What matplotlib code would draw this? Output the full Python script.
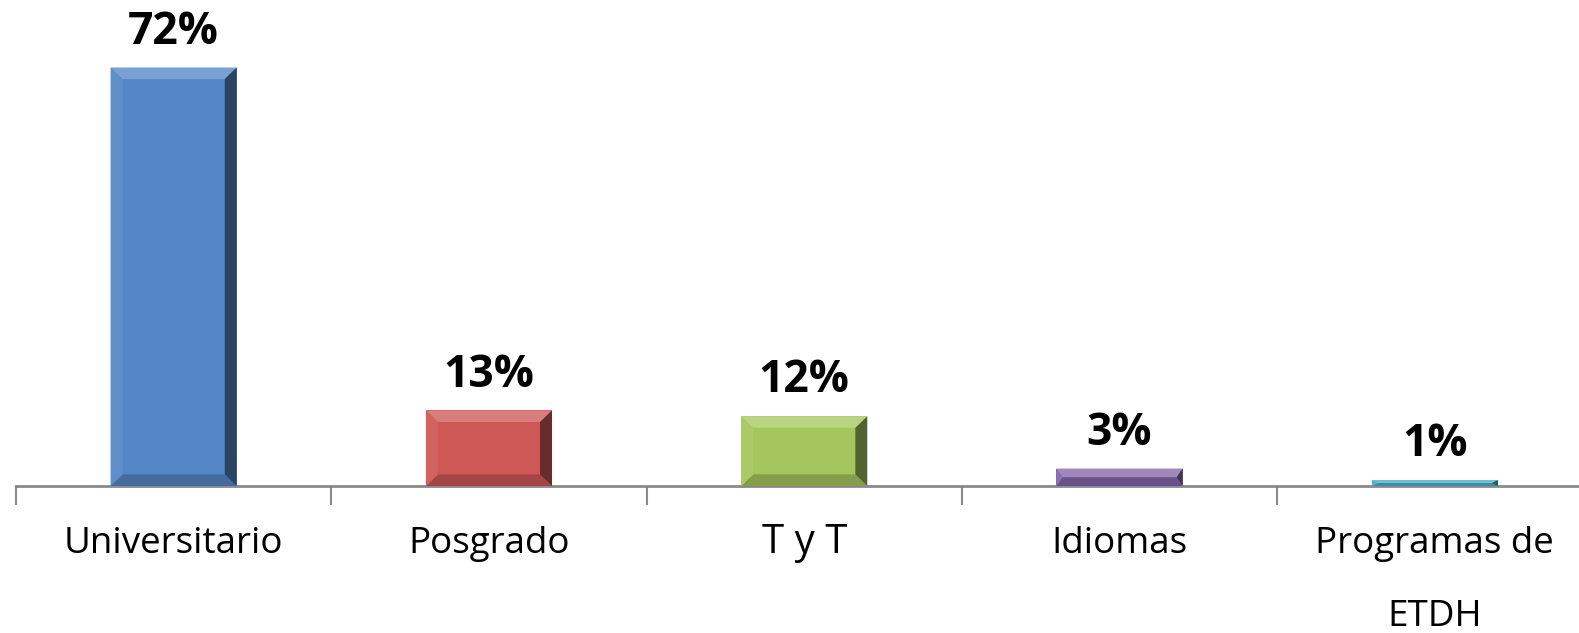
import matplotlib.pyplot as plt
from matplotlib.patches import Polygon
import numpy as np

categories = ['Universitario', 'Posgrado', 'T y T', 'Idiomas', 'Programas de\nETDH']
values = [72, 13, 12, 3, 1]
labels = ['72%', '13%', '12%', '3%', '1%']
colors = ['#5587C6', '#CD5856', '#A5C65F', '#8567AB', '#4CAFC9']

plt.rcParams['font.family'] = ['Open Sans', 'DejaVu Sans']

fig = plt.figure(figsize=(15.79, 6.33), dpi=100)
# axis spans past the right edge, like the original
ax = fig.add_axes([16 / 1579, 147 / 633, 1576.5 / 1579, 465 / 633])

x = np.arange(len(categories))
width = 0.40
ax.bar(x, values, width=width, color=colors, edgecolor='none', zorder=2)


def shade(c, f):
    rgb = np.array(plt.matplotlib.colors.to_rgb(c))
    if f > 0:
        return tuple(rgb + (1 - rgb) * f)
    return tuple(rgb * (1 + f))


# bevel look
bx = 0.038
for xi, v, c, lab in zip(x, values, colors, labels):
    x0, x1 = xi - width / 2, xi + width / 2
    by = min(2.0, v / 2)
    bxx = bx if v > 4 else bx * 0.5
    top = [(x0, v), (x1, v), (x1 - bxx, v - by), (x0 + bxx, v - by)]
    bot = [(x0, 0), (x1, 0), (x1 - bxx, by), (x0 + bxx, by)]
    lft = [(x0, 0), (x0, v), (x0 + bxx, v - by), (x0 + bxx, by)]
    rgt = [(x1, 0), (x1, v), (x1 - bxx, v - by), (x1 - bxx, by)]
    ax.add_patch(Polygon(top, closed=True, color=shade(c, 0.22), lw=0, zorder=3))
    ax.add_patch(Polygon(bot, closed=True, color=shade(c, -0.2), lw=0, zorder=3))
    ax.add_patch(Polygon(lft, closed=True, color=shade(c, 0.06), lw=0, zorder=3))
    ax.add_patch(Polygon(rgt, closed=True, color=shade(c, -0.5), lw=0, zorder=3))
    ax.text(xi, v + 2.2, lab, ha='center', va='bottom',
            fontsize=32, fontweight='bold', color='black')

ax.set_xlim(-0.5, len(categories) - 0.5)
ax.set_ylim(0, 80)
for s in ['top', 'right', 'left']:
    ax.spines[s].set_visible(False)
ax.spines['bottom'].set_color('#8a8a8a')
ax.spines['bottom'].set_linewidth(2)
ax.set_yticks([])
ax.set_xticks(np.arange(len(categories) + 1) - 0.5, minor=True)
ax.tick_params(axis='x', which='minor', length=14, width=1.5, color='#8a8a8a')
ax.set_xticks(x)
ax.set_xticklabels([])
ax.tick_params(axis='x', which='major', length=0)

for xi, cat in zip(x, categories):
    fs = 29 if cat == 'T y T' else 26.5
    dy = -26 if cat == 'T y T' else -29
    ax.annotate(cat, (xi, 0), xytext=(0, dy), textcoords='offset points',
                ha='center', va='top', fontsize=fs, linespacing=2.35)

fig.savefig('out.png', dpi=100)
